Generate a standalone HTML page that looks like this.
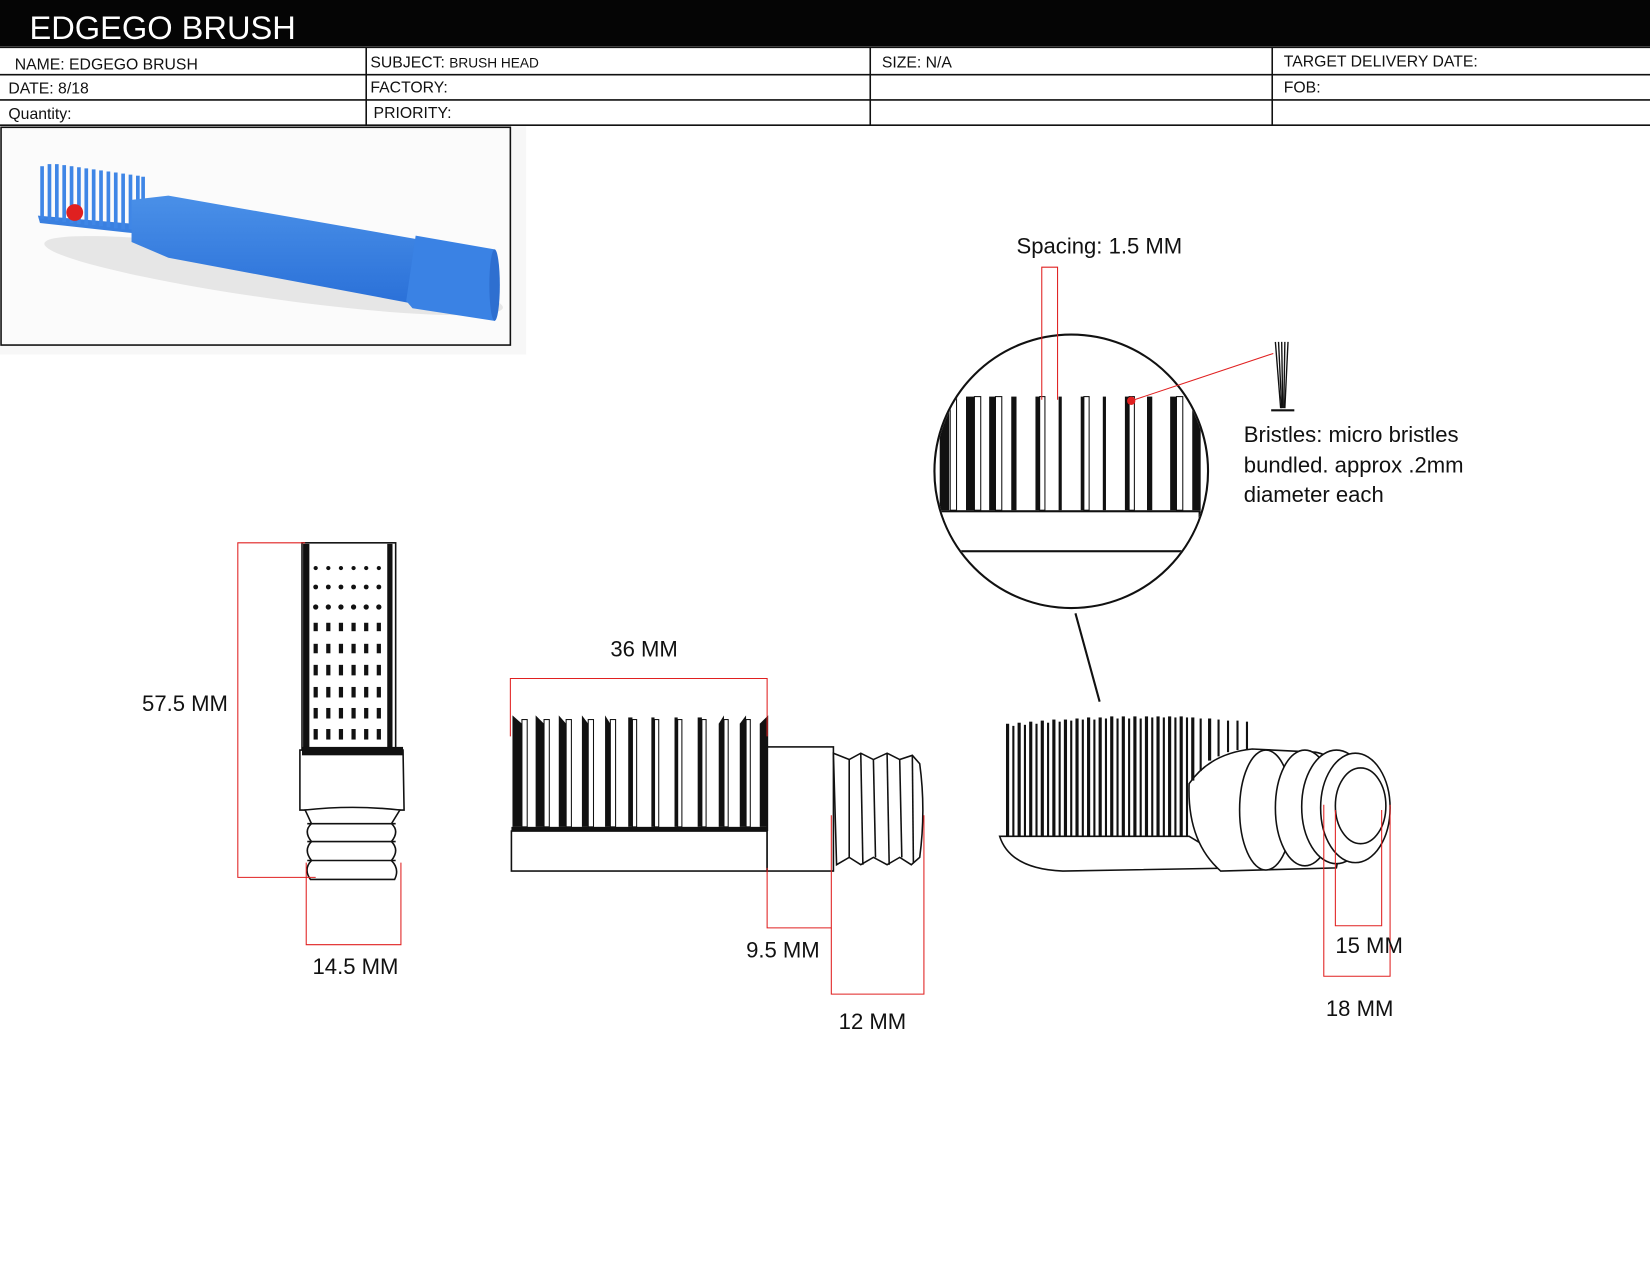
<!DOCTYPE html>
<html><head><meta charset="utf-8"><style>
html,body{margin:0;padding:0;background:#fff;}
svg{display:block;}
text{font-family:"Liberation Sans",sans-serif;}
</style></head><body>
<svg width="1650" height="1275" viewBox="0 0 1568 1212" preserveAspectRatio="none" xmlns="http://www.w3.org/2000/svg">
<defs>
<linearGradient id="bl" x1="0" y1="0" x2="0" y2="1"><stop offset="0" stop-color="#4a90e8"/><stop offset="1" stop-color="#2a70d8"/></linearGradient>
</defs>
<rect x="0" y="0" width="1568" height="44" fill="#050505"/>
<text x="28" y="37" fill="#fff" font-size="31">EDGEGO BRUSH</text>
<g stroke="#111" stroke-width="1.5" fill="none">
<line x1="0" y1="45" x2="1568" y2="45"/>
<line x1="0" y1="71" x2="1568" y2="71"/>
<line x1="0" y1="95" x2="1568" y2="95"/>
<line x1="0" y1="119" x2="1568" y2="119"/>
<line x1="348" y1="45" x2="348" y2="119"/>
<line x1="827" y1="45" x2="827" y2="119"/>
<line x1="1209" y1="45" x2="1209" y2="119"/>
</g>
<g font-size="15" fill="#111">
<text x="14" y="66">NAME: EDGEGO BRUSH</text>
<text x="352" y="64">SUBJECT: <tspan font-size="13">BRUSH HEAD</tspan></text>
<text x="838" y="64">SIZE:  N/A</text>
<text x="1220" y="63">TARGET DELIVERY DATE:</text>
<text x="8" y="89">DATE: 8/18</text>
<text x="352" y="88">FACTORY:</text>
<text x="1220" y="88">FOB:</text>
<text x="8" y="113">Quantity:</text>
<text x="355" y="112">PRIORITY:</text>
</g>
<!-- photo box -->
<rect x="0" y="120" width="500" height="217" fill="#f7f7f7"/>
<rect x="1" y="121" width="484" height="207" fill="#fbfbfb" stroke="#111" stroke-width="1.5"/>
<ellipse cx="260" cy="262" rx="220" ry="22" fill="#e6e6e6" transform="rotate(8 260 262)"/>
<g>
<polygon points="36,205 130,213 130,222 38,212" fill="#3a80e0"/>
<g stroke="#3f86e6" stroke-width="3.5">
<line x1="40" y1="158" x2="40" y2="208"/><line x1="47" y1="156" x2="47" y2="209"/><line x1="54" y1="156" x2="54" y2="210"/><line x1="61" y1="157" x2="61" y2="211"/><line x1="68" y1="158" x2="68" y2="212"/><line x1="75" y1="159" x2="75" y2="213"/><line x1="82" y1="160" x2="82" y2="214"/><line x1="89" y1="161" x2="89" y2="214"/><line x1="96" y1="162" x2="96" y2="215"/><line x1="103" y1="163" x2="103" y2="216"/><line x1="110" y1="164" x2="110" y2="217"/><line x1="117" y1="165" x2="117" y2="218"/><line x1="124" y1="166" x2="124" y2="218"/><line x1="131" y1="167" x2="131" y2="219"/><line x1="136" y1="168" x2="136" y2="219"/>
</g>
<polygon points="125,190 160,186 400,228 400,290 160,245 125,230" fill="url(#bl)"/>
<polygon points="395,224 470,237 474,262 470,305 392,293 386,286" fill="#3a82e4"/>
<ellipse cx="470" cy="271" rx="5" ry="34" fill="#2e6fd0"/>
</g>
<circle cx="71" cy="202" r="8" fill="#e02020"/>
<!-- magnifier circle -->
<text x="966" y="241" font-size="21" fill="#111">Spacing: 1.5 MM</text>
<circle cx="1018" cy="448" r="130" fill="#fff" stroke="#111" stroke-width="2"/>
<clipPath id="cc"><circle cx="1018" cy="448" r="129"/></clipPath>
<g clip-path="url(#cc)">
<rect x="880" y="486" width="260" height="38" fill="#fff" stroke="#111" stroke-width="2"/>
<g fill="#111">
<rect x="893" y="385" width="9" height="100"/>
<rect x="918" y="377" width="8" height="108"/><rect x="940" y="377" width="6" height="108"/><rect x="961" y="377" width="5" height="108"/>
<rect x="984" y="377" width="4" height="108"/><rect x="1006" y="377" width="3" height="108"/><rect x="1027" y="377" width="3" height="108"/>
<rect x="1048" y="377" width="3" height="108"/><rect x="1069" y="377" width="4" height="108"/><rect x="1090" y="377" width="5" height="108"/>
<rect x="1112" y="377" width="6" height="108"/><rect x="1133" y="385" width="8" height="100"/>
</g>
<g stroke="#111" stroke-width="1" fill="none">
<rect x="903" y="377" width="6" height="108"/><rect x="926" y="377" width="6" height="108"/><rect x="946" y="377" width="6" height="108"/>
<rect x="988" y="377" width="5" height="108"/><rect x="1030" y="377" width="5" height="108"/><rect x="1073" y="377" width="5" height="108"/><rect x="1118" y="377" width="6" height="108"/>
</g>
</g>
<line x1="1022" y1="583" x2="1045" y2="667" stroke="#111" stroke-width="2"/>
<g stroke="#e02020" stroke-width="1" fill="none">
<polyline points="990,380 990,254 1005,254 1005,380"/>
<line x1="1075" y1="381" x2="1210" y2="336"/>
</g>
<circle cx="1075" cy="381" r="4" fill="#e02020"/>
<g stroke="#111" stroke-width="1.3">
<line x1="1212" y1="325" x2="1217" y2="388"/><line x1="1215" y1="325" x2="1218" y2="388"/><line x1="1218" y1="325" x2="1219" y2="388"/><line x1="1221" y1="325" x2="1220" y2="388"/><line x1="1224" y1="325" x2="1221" y2="388"/>
<line x1="1208" y1="390" x2="1230" y2="390" stroke-width="2"/>
</g>
<g font-size="21" fill="#111">
<text x="1182" y="420">Bristles: micro bristles</text>
<text x="1182" y="449">bundled. approx .2mm</text>
<text x="1182" y="477">diameter each</text>
</g>
<!-- left drawing -->
<g stroke="#111" stroke-width="1.5" fill="#fff">
<rect x="287" y="516" width="89" height="197"/>
<path d="M285,713 L383,713 L384,770 L285,770 Z"/>
<path d="M290,770 Q335,765 380,770 L372,783 Q380,790 372,800 Q380,808 372,818 Q380,826 375,836 L295,836 Q288,826 296,818 Q288,808 296,800 Q288,790 296,783 Z"/>
<line x1="292" y1="783" x2="376" y2="783"/><line x1="292" y1="800" x2="376" y2="800"/><line x1="292" y1="818" x2="376" y2="818"/>
</g>
<g fill="#111">
<rect x="288" y="517" width="6" height="195"/><rect x="368" y="517" width="5" height="195"/>
<g>
<circle cx="300" cy="540" r="2"/><circle cx="312" cy="540" r="2"/><circle cx="324" cy="540" r="2"/><circle cx="336" cy="540" r="2"/><circle cx="348" cy="540" r="2"/><circle cx="360" cy="540" r="2"/>
<circle cx="300" cy="558" r="2.3"/><circle cx="312" cy="558" r="2.3"/><circle cx="324" cy="558" r="2.3"/><circle cx="336" cy="558" r="2.3"/><circle cx="348" cy="558" r="2.3"/><circle cx="360" cy="558" r="2.3"/>
<circle cx="300" cy="577" r="2.5"/><circle cx="312" cy="577" r="2.5"/><circle cx="324" cy="577" r="2.5"/><circle cx="336" cy="577" r="2.5"/><circle cx="348" cy="577" r="2.5"/><circle cx="360" cy="577" r="2.5"/>
</g>
<g>
<rect x="298" y="592" width="4" height="8"/><rect x="310" y="592" width="4" height="8"/><rect x="322" y="592" width="4" height="8"/><rect x="334" y="592" width="4" height="8"/><rect x="346" y="592" width="4" height="8"/><rect x="358" y="592" width="4" height="8"/>
<rect x="298" y="612" width="4" height="9"/><rect x="310" y="612" width="4" height="9"/><rect x="322" y="612" width="4" height="9"/><rect x="334" y="612" width="4" height="9"/><rect x="346" y="612" width="4" height="9"/><rect x="358" y="612" width="4" height="9"/>
<rect x="298" y="632" width="4" height="10"/><rect x="310" y="632" width="4" height="10"/><rect x="322" y="632" width="4" height="10"/><rect x="334" y="632" width="4" height="10"/><rect x="346" y="632" width="4" height="10"/><rect x="358" y="632" width="4" height="10"/>
<rect x="298" y="653" width="4" height="10"/><rect x="310" y="653" width="4" height="10"/><rect x="322" y="653" width="4" height="10"/><rect x="334" y="653" width="4" height="10"/><rect x="346" y="653" width="4" height="10"/><rect x="358" y="653" width="4" height="10"/>
<rect x="298" y="673" width="4" height="10"/><rect x="310" y="673" width="4" height="10"/><rect x="322" y="673" width="4" height="10"/><rect x="334" y="673" width="4" height="10"/><rect x="346" y="673" width="4" height="10"/><rect x="358" y="673" width="4" height="10"/>
<rect x="298" y="693" width="4" height="10"/><rect x="310" y="693" width="4" height="10"/><rect x="322" y="693" width="4" height="10"/><rect x="334" y="693" width="4" height="10"/><rect x="346" y="693" width="4" height="10"/><rect x="358" y="693" width="4" height="10"/>
</g>
<rect x="287" y="710" width="96" height="8"/>
</g>
<g stroke="#e02020" stroke-width="1" fill="none">
<polyline points="290,516 226,516 226,834 300,834"/>
<polyline points="291,820 291,898 381,898 381,820"/>
</g>
<g font-size="21" fill="#111">
<text x="135" y="676">57.5 MM</text>
<text x="297" y="926">14.5 MM</text>
</g>
<!-- middle drawing -->
<g stroke="#111" stroke-width="1.5" fill="#fff">
<rect x="486" y="790" width="243" height="38"/>
<rect x="729" y="710" width="63" height="118"/>
<path d="M792,716 L807,722 L818,716 L830,722 L843,716 L855,722 L867,718 L874,726 Q880,770 874,815 L866,822 L855,815 L843,822 L830,815 L818,822 L807,815 L795,822 Z"/>
<line x1="807" y1="722" x2="807" y2="815"/><line x1="818" y1="716" x2="820" y2="822"/><line x1="830" y1="722" x2="832" y2="815"/><line x1="843" y1="716" x2="845" y2="822"/><line x1="855" y1="722" x2="857" y2="815"/><line x1="867" y1="718" x2="868" y2="820"/>
</g>
<g fill="#111">
<rect x="486" y="786" width="244" height="4"/>
<polygon points="487,680 496,688 496,786 487,786"/>
<polygon points="509,680 517,688 517,786 509,786"/>
<polygon points="531,680 538,688 538,786 531,786"/>
<polygon points="553,680 559,688 559,786 553,786"/>
<polygon points="575,680 580,688 580,786 575,786"/>
<rect x="597" y="682" width="4" height="104"/><rect x="619" y="682" width="3" height="104"/><rect x="641" y="682" width="3" height="104"/><rect x="663" y="682" width="4" height="104"/>
<polygon points="683,688 688,680 688,786 683,786"/>
<polygon points="703,688 709,680 709,786 703,786"/>
<polygon points="722,688 730,680 730,786 722,786"/>
</g>
<g stroke="#111" stroke-width="1" fill="none">
<rect x="496" y="684" width="5" height="102"/><rect x="517" y="684" width="5" height="102"/><rect x="538" y="684" width="5" height="102"/><rect x="559" y="684" width="5" height="102"/><rect x="580" y="684" width="5" height="102"/><rect x="601" y="684" width="4" height="102"/><rect x="622" y="684" width="4" height="102"/><rect x="644" y="684" width="4" height="102"/><rect x="667" y="684" width="4" height="102"/><rect x="688" y="684" width="4" height="102"/><rect x="709" y="684" width="4" height="102"/>
</g>
<g stroke="#e02020" stroke-width="1" fill="none">
<polyline points="485,700 485,645 729,645 729,700"/>
<polyline points="729,825 729,882 790,882 790,775"/>
<polyline points="790,882 790,945 878,945 878,775"/>
</g>
<g font-size="21" fill="#111">
<text x="580" y="624">36 MM</text>
<text x="709" y="910">9.5 MM</text>
<text x="797" y="978">12 MM</text>
</g>
<!-- right drawing -->
<g stroke="#111" stroke-width="1.5" fill="#fff">
<path d="M950,795 L1130,795 L1180,825 L1010,828 Q960,826 950,795 Z"/>
<path d="M1130,745 Q1150,716 1190,712 L1250,715 Q1280,720 1280,770 L1270,825 L1160,828 Q1128,800 1130,745 Z"/>
<ellipse cx="1203" cy="770" rx="25" ry="57"/>
<ellipse cx="1240" cy="768" rx="28" ry="55"/>
<ellipse cx="1270" cy="767" rx="33" ry="54"/>
<ellipse cx="1288" cy="768" rx="33" ry="52"/>
<ellipse cx="1293" cy="766" rx="24" ry="36"/>
</g>
<g fill="#111">
<rect x="956" y="688" width="3" height="107"/><rect x="962" y="690" width="2" height="105"/><rect x="967" y="687" width="3" height="108"/><rect x="973" y="689" width="2" height="106"/>
<rect x="978" y="686" width="3" height="109"/><rect x="984" y="688" width="2" height="107"/><rect x="989" y="685" width="3" height="110"/><rect x="995" y="687" width="2" height="108"/>
<rect x="1000" y="684" width="3" height="111"/><rect x="1006" y="686" width="2" height="109"/><rect x="1011" y="684" width="3" height="111"/><rect x="1017" y="685" width="2" height="110"/>
<rect x="1022" y="683" width="3" height="112"/><rect x="1028" y="684" width="2" height="111"/><rect x="1033" y="682" width="3" height="113"/><rect x="1039" y="684" width="2" height="111"/>
<rect x="1044" y="682" width="3" height="113"/><rect x="1050" y="683" width="2" height="112"/><rect x="1055" y="681" width="3" height="114"/><rect x="1061" y="683" width="2" height="112"/>
<rect x="1066" y="681" width="3" height="114"/><rect x="1072" y="683" width="2" height="112"/><rect x="1077" y="681" width="3" height="114"/><rect x="1083" y="683" width="2" height="112"/>
<rect x="1088" y="681" width="3" height="114"/><rect x="1094" y="682" width="2" height="113"/><rect x="1099" y="681" width="3" height="114"/><rect x="1105" y="682" width="2" height="113"/>
<rect x="1110" y="681" width="3" height="114"/><rect x="1116" y="682" width="2" height="113"/><rect x="1121" y="681" width="3" height="114"/><rect x="1127" y="682" width="2" height="113"/>
<rect x="1132" y="682" width="3" height="60"/><rect x="1140" y="683" width="2" height="50"/><rect x="1148" y="683" width="3" height="40"/><rect x="1157" y="684" width="2" height="35"/><rect x="1166" y="685" width="2" height="30"/><rect x="1175" y="685" width="2" height="28"/><rect x="1184" y="686" width="2" height="27"/>
</g>
<g stroke="#e02020" stroke-width="1" fill="none">
<polyline points="1269,770 1269,880 1313,880 1313,770"/>
<polyline points="1258,765 1258,928 1321,928 1321,765"/>
</g>
<g font-size="21" fill="#111">
<text x="1269" y="906">15 MM</text>
<text x="1260" y="966">18 MM</text>
</g>
</svg>
</body></html>
